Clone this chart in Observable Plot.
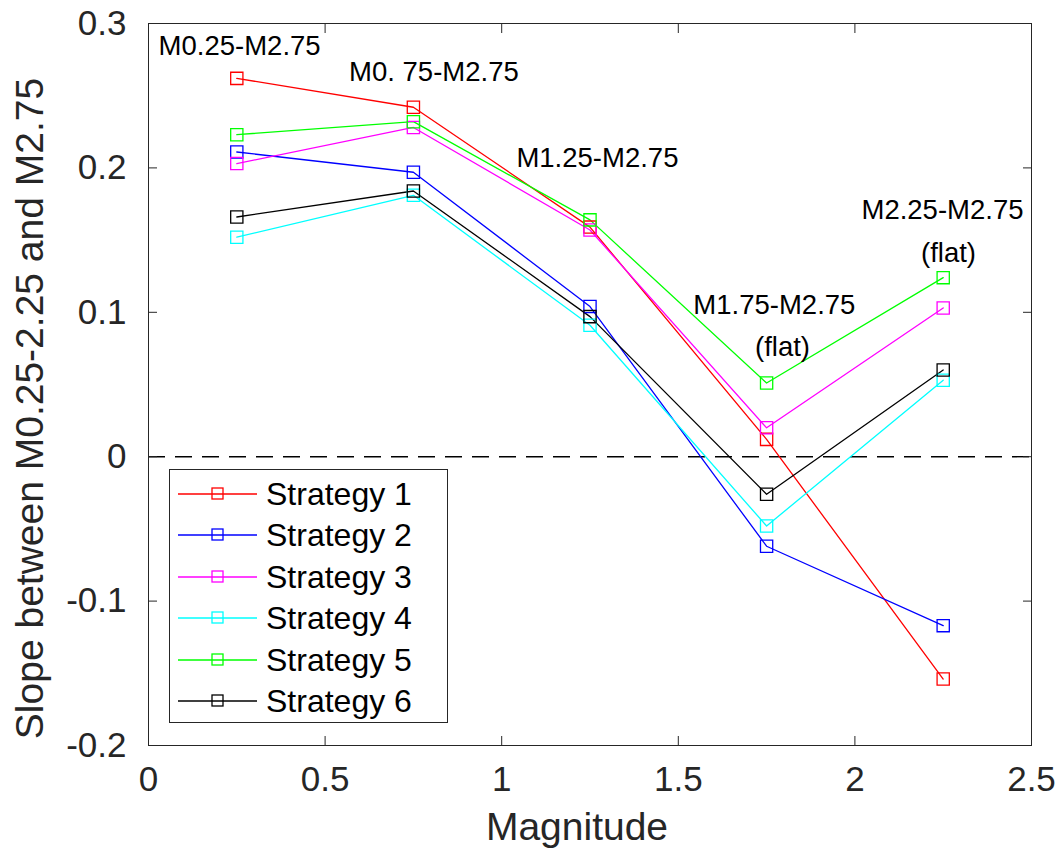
<!DOCTYPE html>
<html>
<head>
<meta charset="utf-8">
<script src="https://cdn.jsdelivr.net/npm/d3@7"></script>
<script src="https://cdn.jsdelivr.net/npm/@observablehq/plot@0.6"></script>
<style>
  html, body { margin: 0; padding: 0; background: #fff; }
  #wrap { position: relative; width: 1058px; height: 859px; font-family: "Liberation Sans", Arial, Helvetica, sans-serif; }
  #legend { position: absolute; background: #fff; border: 1px solid #262626; box-sizing: border-box; }
  .lrow { position: absolute; left: 0; height: 40px; display: flex; align-items: center; }
  .lrow span { font-size: 32px; color: #000; margin-left: 8px; line-height: 1; }
</style>
</head>
<body>
<div id="wrap"></div>
<script>
// ---- data ----
const magnitudes = [0.25, 0.75, 1.25, 1.75, 2.25];
const strategies = ["Strategy 1", "Strategy 2", "Strategy 3", "Strategy 4", "Strategy 5", "Strategy 6"];
const colors = ["#ff0000", "#0000ff", "#ff00ff", "#00ffff", "#00ff00", "#000000"];
const strategy1 = [0.262, 0.242, 0.159, 0.012, -0.154];
const strategy2 = [0.211, 0.197, 0.104, -0.062, -0.117];
const strategy3 = [0.203, 0.228, 0.157, 0.020, 0.103];
const strategy4 = [0.152, 0.181, 0.091, -0.048, 0.053];
const strategy5 = [0.223, 0.232, 0.164, 0.051, 0.124];
const strategy6 = [0.166, 0.184, 0.097, -0.026, 0.060];
const xTicks = [0, 0.5, 1, 1.5, 2, 2.5];
const yTicks = [-0.2, -0.1, 0, 0.1, 0.2, 0.3];
const annotationLabels = ["M0.25-M2.75", "M0. 75-M2.75", "M1.25-M2.75", "M1.75-M2.75", "(flat)", "M2.25-M2.75", "(flat)"];
const annotationX = [0.258, 0.808, 1.271, 1.772, 1.795, 2.248, 2.265];
const annotationY = [0.284, 0.266, 0.207, 0.105, 0.0757, 0.1705, 0.1407];
const xLabel = "Magnitude";
const yLabel = "Slope between M0.25-2.25 and M2.75";

// ---- build tables ----
const series = [strategy1, strategy2, strategy3, strategy4, strategy5, strategy6];
const rows = [];
series.forEach((vals, i) => vals.forEach((v, j) => rows.push({strategy: strategies[i], x: magnitudes[j], y: v})));
const annotations = annotationLabels.map((t, i) => ({text: t, x: annotationX[i], y: annotationY[i]}));
const fmt = d => String(+d.toFixed(1));
const font = "'Liberation Sans', Arial, Helvetica, sans-serif";
const axisColor = "#262626";

const chart = Plot.plot({
  width: 1058,
  height: 859,
  marginLeft: 148,
  marginRight: 27,
  marginTop: 23,
  marginBottom: 114,
  style: {fontFamily: font, background: "#fff", color: axisColor},
  x: {domain: [0, 2.5]},
  y: {domain: [-0.2, 0.3]},
  color: {domain: strategies, range: colors},
  marks: [
    Plot.ruleY([0], {stroke: "#000", strokeWidth: 1.4, strokeDasharray: "17,10"}),
    Plot.axisX(xTicks, {anchor: "bottom", tickSize: -9, tickPadding: 30, tickFormat: fmt, fontSize: 35, label: null, stroke: axisColor, fill: axisColor}),
    Plot.axisX(xTicks, {anchor: "top", tickSize: -9, tickFormat: () => "", label: null, stroke: axisColor}),
    Plot.axisY(yTicks, {anchor: "left", tickSize: -9, tickPadding: 31, tickFormat: fmt, fontSize: 35, label: null, stroke: axisColor, fill: axisColor}),
    Plot.axisY(yTicks, {anchor: "right", tickSize: -9, tickFormat: () => "", label: null, stroke: axisColor}),
    Plot.frame({stroke: axisColor, strokeWidth: 1}),
    Plot.line(rows, {x: "x", y: "y", z: "strategy", stroke: "strategy", strokeWidth: 1.3}),
    Plot.dot(rows, {x: "x", y: "y", stroke: "strategy", symbol: "square", r: 6.9, fill: "none", strokeWidth: 1.3}),
    Plot.text(annotations, {x: "x", y: "y", text: "text", fontSize: 27.5, fill: "#000", textAnchor: "middle", lineAnchor: "middle"}),
    Plot.text([xLabel], {frameAnchor: "bottom", textAnchor: "middle", dx: -13, dy: 82, fontSize: 39, fill: axisColor, lineAnchor: "middle"}),
    Plot.text([yLabel], {frameAnchor: "left", textAnchor: "middle", rotate: -90, dx: -118, dy: 24, fontSize: 39, fill: axisColor, lineAnchor: "middle"})
  ]
});

const wrap = document.getElementById("wrap");
wrap.appendChild(chart);

// ---- legend (HTML overlay) ----
const legend = document.createElement("div");
legend.id = "legend";
legend.style.left = "169px";
legend.style.top = "469px";
legend.style.width = "279px";
legend.style.height = "254px";
strategies.forEach((name, i) => {
  const row = document.createElement("div");
  row.className = "lrow";
  row.style.top = (4 + i * 41.4) + "px";
  const ns = "http://www.w3.org/2000/svg";
  const svg = document.createElementNS(ns, "svg");
  svg.setAttribute("width", 88);
  svg.setAttribute("height", 40);
  const ln = document.createElementNS(ns, "line");
  ln.setAttribute("x1", 8); ln.setAttribute("x2", 87);
  ln.setAttribute("y1", 20); ln.setAttribute("y2", 20);
  ln.setAttribute("stroke", colors[i]); ln.setAttribute("stroke-width", 1.3);
  const sq = document.createElementNS(ns, "rect");
  sq.setAttribute("x", 42); sq.setAttribute("y", 14);
  sq.setAttribute("width", 11); sq.setAttribute("height", 11);
  sq.setAttribute("fill", "none"); sq.setAttribute("stroke", colors[i]); sq.setAttribute("stroke-width", 1.3);
  svg.appendChild(ln); svg.appendChild(sq);
  const label = document.createElement("span");
  label.textContent = name;
  row.appendChild(svg); row.appendChild(label);
  legend.appendChild(row);
});
wrap.appendChild(legend);
</script>
</body>
</html>
